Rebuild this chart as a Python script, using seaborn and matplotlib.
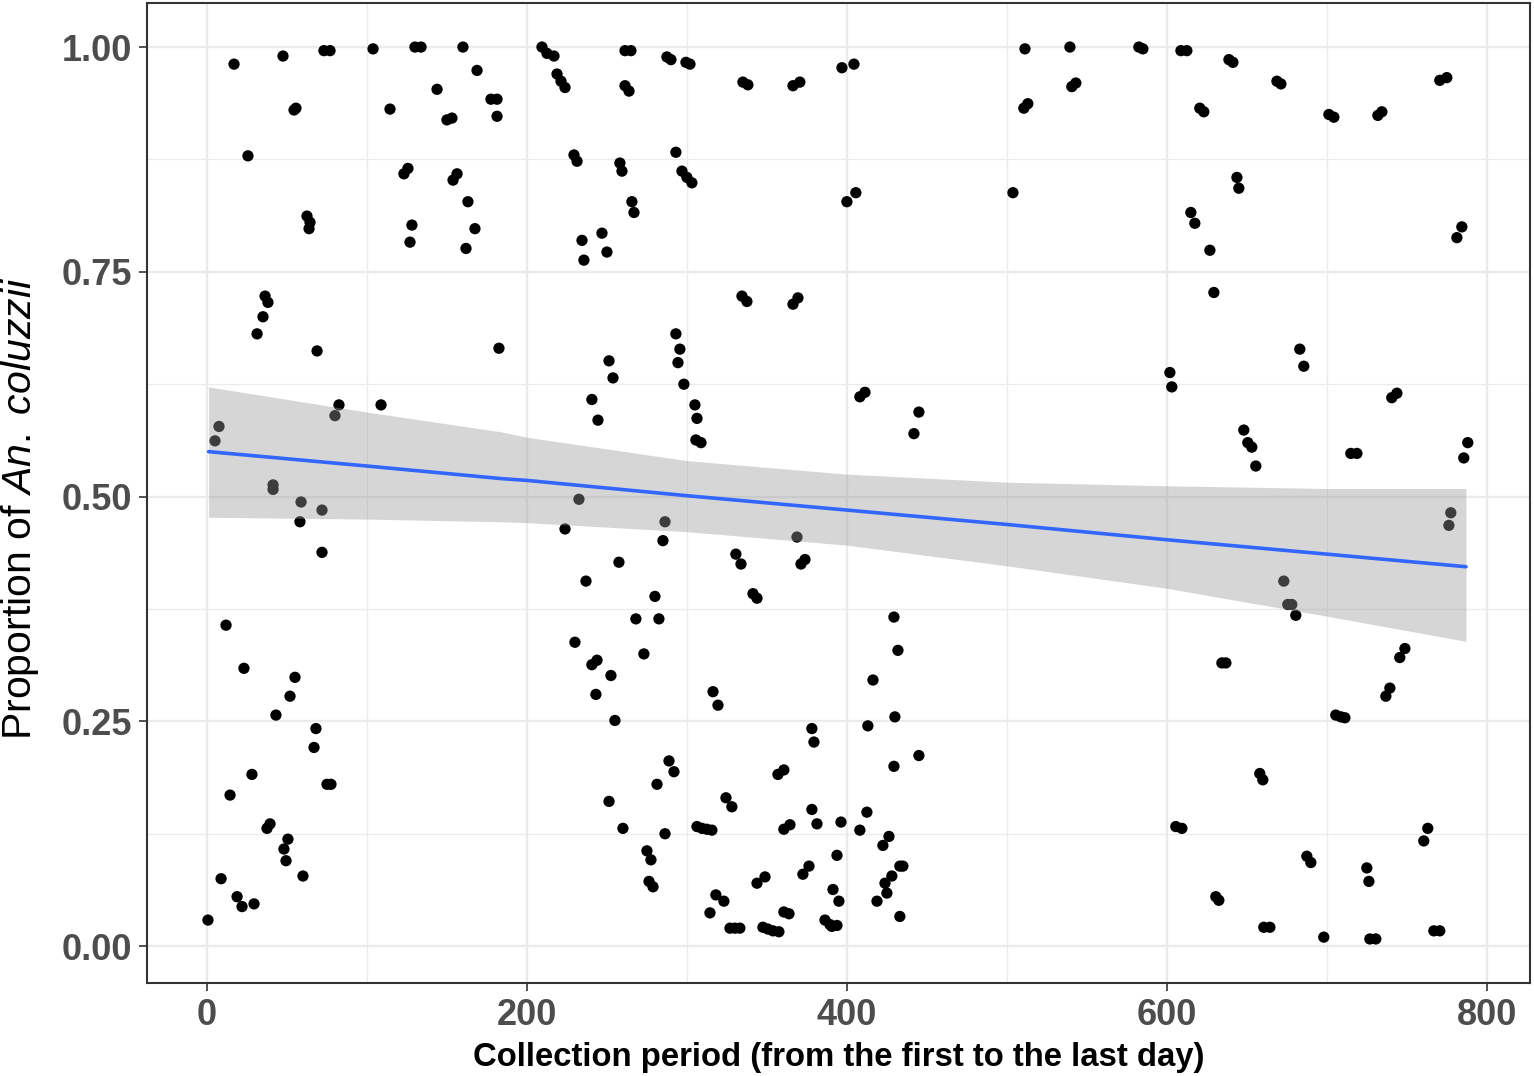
import matplotlib
matplotlib.use("Agg")
import matplotlib.pyplot as plt
import seaborn as sns
import pandas as pd

# ---- data ----
days = [0.6, 5.0, 7.5, 8.8, 11.9, 14.4, 16.9, 18.8, 21.9, 23.1, 25.6, 28.1, 29.4, 31.3, 35.0, 36.3, 38.1, 37.5, 39.4, 41.3,
        41.3, 43.1, 47.5, 50.6, 48.1, 49.4, 51.9, 55.0, 55.6, 54.4, 58.1, 58.8, 60.0, 62.5, 64.4, 63.8, 66.9, 68.1, 68.8, 71.9,
        71.9, 73.1, 76.9, 75.0, 77.5, 80.0, 82.5, 103.8, 108.8, 114.4, 123.1, 125.6, 126.9, 128.1, 130.0, 133.8, 143.8, 150.0, 153.1, 153.8,
        156.3, 160.0, 161.9, 163.1, 167.5, 168.8, 177.5, 181.3, 181.3, 182.5, 209.4, 212.5, 216.9, 218.8, 221.3, 223.8, 261.3, 265.0, 287.5, 290.0,
        299.4, 301.9, 335.0, 338.1, 366.3, 370.6, 396.9, 404.4, 261.3, 263.8, 229.4, 231.3, 258.1, 259.4, 293.1, 296.9, 300.0, 303.1, 265.6, 266.9,
        246.9, 250.0, 234.4, 235.6, 334.4, 337.5, 366.3, 369.4, 293.1, 511.3, 539.4, 582.5, 585.0, 608.8, 612.5, 540.6, 543.1, 510.6, 513.1, 503.8,
        400.0, 405.6, 638.8, 641.3, 668.8, 671.3, 620.6, 623.1, 701.3, 704.4, 731.9, 734.4, 770.6, 775.0, 643.8, 645.0, 615.0, 617.5, 626.9, 629.4,
        784.4, 781.3, 601.9, 603.1, 683.1, 685.6, 740.6, 743.8, 648.1, 650.6, 653.1, 655.6, 715.0, 718.8, 788.1, 785.6, 777.5, 776.3, 673.1, 675.6,
        678.1, 680.6, 634.4, 636.9, 748.8, 745.6, 408.1, 411.3, 445.0, 441.9, 429.4, 431.9, 251.3, 253.8, 240.6, 244.4, 295.6, 294.4, 298.1, 305.0,
        306.3, 305.6, 308.8, 232.5, 223.8, 286.3, 285.0, 257.5, 236.9, 280.0, 368.8, 330.6, 333.8, 373.8, 371.3, 341.3, 343.8, 268.1, 282.5, 230.0,
        273.1, 243.8, 240.6, 252.5, 243.1, 255.0, 316.3, 319.4, 378.1, 379.4, 288.8, 291.9, 281.3, 251.3, 260.0, 286.3, 356.9, 360.6, 324.4, 328.1,
        378.1, 381.3, 396.3, 360.6, 364.4, 306.3, 309.4, 312.5, 315.6, 275.0, 277.5, 276.3, 278.8, 393.8, 376.3, 372.5, 343.8, 348.8, 391.3, 395.0,
        318.1, 323.1, 314.4, 360.6, 363.8, 326.9, 330.0, 333.1, 347.5, 350.6, 353.8, 357.5, 386.3, 389.4, 393.8, 390.6, 416.3, 430.0, 413.1, 445.0,
        429.4, 412.5, 408.1, 426.3, 422.5, 433.1, 435.0, 428.1, 423.8, 425.0, 418.8, 433.1, 605.6, 609.4, 739.4, 736.9, 705.6, 708.8, 711.3, 658.1,
        660.0, 763.1, 760.6, 687.5, 690.0, 725.0, 726.3, 630.6, 632.5, 660.6, 664.4, 698.1, 726.9, 730.6, 766.9, 770.6]

proportion = [0.029, 0.562, 0.578, 0.075, 0.357, 0.168, 0.981, 0.055, 0.044, 0.309, 0.879, 0.191, 0.047, 0.681, 0.700, 0.723, 0.716, 0.131, 0.136, 0.513,
              0.508, 0.257, 0.990, 0.119, 0.108, 0.095, 0.278, 0.299, 0.932, 0.930, 0.472, 0.494, 0.078, 0.812, 0.805, 0.798, 0.221, 0.242, 0.662, 0.485,
              0.438, 0.996, 0.996, 0.180, 0.180, 0.590, 0.602, 0.998, 0.602, 0.931, 0.859, 0.865, 0.783, 0.802, 1.000, 1.000, 0.953, 0.919, 0.921, 0.852,
              0.859, 1.000, 0.776, 0.828, 0.798, 0.974, 0.942, 0.942, 0.923, 0.665, 1.000, 0.993, 0.990, 0.970, 0.962, 0.955, 0.996, 0.996, 0.989, 0.986,
              0.983, 0.981, 0.961, 0.958, 0.957, 0.961, 0.977, 0.981, 0.957, 0.951, 0.880, 0.873, 0.871, 0.862, 0.883, 0.862, 0.855, 0.849, 0.828, 0.816,
              0.793, 0.772, 0.785, 0.763, 0.723, 0.717, 0.714, 0.721, 0.681, 0.998, 1.000, 1.000, 0.998, 0.996, 0.996, 0.956, 0.960, 0.932, 0.937, 0.838,
              0.828, 0.838, 0.986, 0.983, 0.962, 0.959, 0.932, 0.928, 0.925, 0.922, 0.924, 0.928, 0.963, 0.966, 0.855, 0.843, 0.816, 0.804, 0.774, 0.727,
              0.800, 0.788, 0.638, 0.622, 0.664, 0.645, 0.610, 0.615, 0.574, 0.560, 0.555, 0.534, 0.548, 0.548, 0.560, 0.543, 0.482, 0.468, 0.406, 0.380,
              0.380, 0.368, 0.315, 0.315, 0.331, 0.321, 0.611, 0.616, 0.594, 0.570, 0.366, 0.329, 0.651, 0.632, 0.608, 0.585, 0.664, 0.649, 0.625, 0.602,
              0.587, 0.563, 0.560, 0.497, 0.464, 0.472, 0.451, 0.427, 0.406, 0.389, 0.455, 0.436, 0.425, 0.430, 0.425, 0.392, 0.387, 0.364, 0.364, 0.338,
              0.325, 0.318, 0.313, 0.301, 0.280, 0.251, 0.283, 0.268, 0.242, 0.227, 0.206, 0.194, 0.180, 0.161, 0.131, 0.125, 0.191, 0.196, 0.165, 0.155,
              0.152, 0.136, 0.138, 0.130, 0.135, 0.133, 0.131, 0.130, 0.129, 0.106, 0.096, 0.072, 0.066, 0.101, 0.089, 0.080, 0.070, 0.077, 0.063, 0.050,
              0.057, 0.050, 0.037, 0.038, 0.036, 0.020, 0.020, 0.020, 0.021, 0.019, 0.017, 0.016, 0.029, 0.024, 0.023, 0.022, 0.296, 0.255, 0.245, 0.212,
              0.200, 0.149, 0.129, 0.122, 0.112, 0.089, 0.089, 0.078, 0.070, 0.059, 0.050, 0.033, 0.133, 0.131, 0.287, 0.278, 0.257, 0.255, 0.254, 0.192,
              0.185, 0.131, 0.117, 0.100, 0.093, 0.087, 0.072, 0.055, 0.051, 0.021, 0.021, 0.010, 0.008, 0.008, 0.017, 0.017]

# fitted trend and its confidence band
fit_days = [1, 100, 184, 200, 300, 400, 500, 600, 700, 787]
fit_value = [0.550, 0.534, 0.520, 0.518, 0.501, 0.485, 0.469, 0.452, 0.436, 0.422]
ci_upper = [0.622, 0.594, 0.572, 0.566, 0.540, 0.525, 0.516, 0.512, 0.509, 0.509]
ci_lower = [0.477, 0.475, 0.472, 0.471, 0.461, 0.446, 0.423, 0.398, 0.367, 0.339]

x_ticks = [0, 200, 400, 600, 800]
y_ticks = [0.00, 0.25, 0.50, 0.75, 1.00]
y_tick_labels = ["0.00", "0.25", "0.50", "0.75", "1.00"]

# ---- styling ----
sns.set_theme(style="white")
plt.rcParams["font.family"] = ["Liberation Sans", "DejaVu Sans"]
plt.rcParams["mathtext.fontset"] = "custom"
plt.rcParams["mathtext.rm"] = "Liberation Sans"
plt.rcParams["mathtext.it"] = "Liberation Sans:italic"

pts = pd.DataFrame({"days": days, "proportion": proportion})
fit = pd.DataFrame({"days": fit_days, "fit": fit_value, "lo": ci_lower, "hi": ci_upper})

fig = plt.figure(figsize=(15.34, 10.76), dpi=100)
ax = fig.add_axes([147 / 1534, 1 - 983 / 1076, (1530 - 147) / 1534, (983 - 3) / 1076])

sns.scatterplot(data=pts, x="days", y="proportion", ax=ax, color="black",
                s=66, edgecolor="none", linewidth=0, zorder=3)
ax.fill_between(fit["days"], fit["lo"], fit["hi"], color="#999999", alpha=0.4,
                linewidth=0, zorder=4)
sns.lineplot(data=fit, x="days", y="fit", ax=ax, color="#3366FF", linewidth=2.6, zorder=5)

ax.set_xlim(-37.5, 827)
ax.set_ylim(-0.041, 1.049)

# grid (theme_bw-like)
for v in [100, 300, 500, 700]:
    ax.axvline(v, color="#EBEBEB", lw=0.9, zorder=0)
for v in [0.125, 0.375, 0.625, 0.875]:
    ax.axhline(v, color="#EBEBEB", lw=0.9, zorder=0)
for v in x_ticks:
    ax.axvline(v, color="#EBEBEB", lw=1.7, zorder=0)
for v in y_ticks:
    ax.axhline(v, color="#EBEBEB", lw=1.7, zorder=0)

ax.set_xticks(x_ticks)
ax.set_xticklabels([str(v) for v in x_ticks])
ax.set_yticks(y_ticks)
ax.set_yticklabels(y_tick_labels)
ax.tick_params(axis="both", which="major", length=6, width=1.2, color="#333333",
               labelsize=26, labelcolor="#4D4D4D", pad=5, direction="out",
               bottom=True, left=True)
for lab in ax.get_xticklabels() + ax.get_yticklabels():
    lab.set_fontweight("bold")

for sp in ax.spines.values():
    sp.set_visible(True)
    sp.set_color("#333333")
    sp.set_linewidth(1.5)

ax.set_xlabel("Collection period (from the first to the last day)", fontsize=23.7,
              fontweight="bold", color="black", labelpad=6)
ax.set_ylabel(r"Proportion of $\mathit{An.}$ $\mathit{coluzzii}$", fontsize=29.5,
              color="black")
ax.yaxis.set_label_coords(-0.077, 0.484)

fig.savefig("out.png", dpi=100)
